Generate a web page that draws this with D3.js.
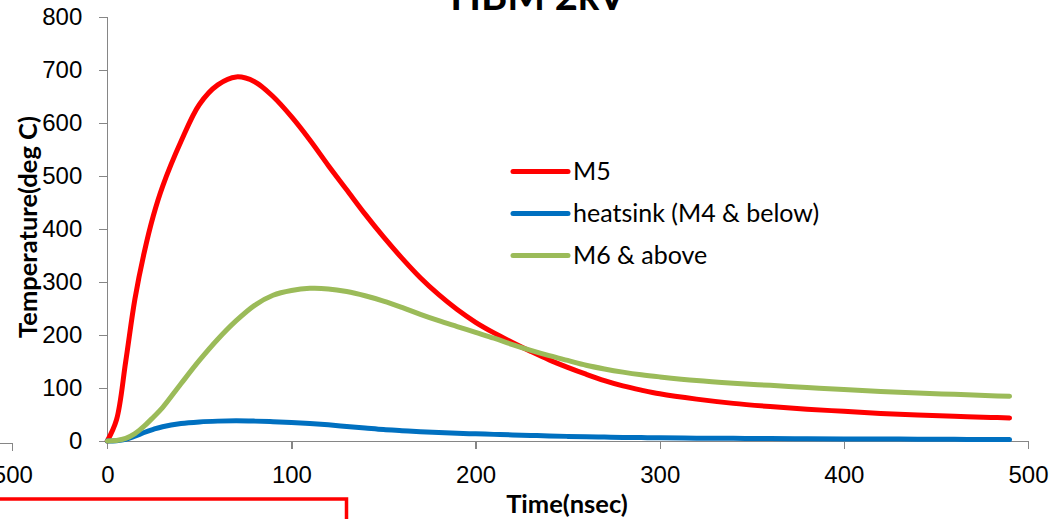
<!DOCTYPE html>
<html>
<head>
<meta charset="utf-8">
<script src="https://cdn.jsdelivr.net/npm/d3@7"></script>
<style>
  html, body { margin: 0; padding: 0; background: #fff; overflow: hidden; }
  svg { display: block; font-family: Lato, "Open Sans", sans-serif; }
  .axis path, .axis line { stroke: #868686; stroke-width: 1.3px; shape-rendering: crispEdges; }
  .axis text { fill: #000; font-size: 24px; }
</style>
</head>
<body>
<svg id="chart" width="1053" height="519"></svg>
<script>
// Simulated temperature transients, HBM 2kV pulse
const timeNs = [0, 5, 10, 15, 20, 25, 30, 40, 50, 60, 70, 80, 90, 100, 110, 120, 130, 140, 150,
  160, 170, 180, 190, 200, 210, 220, 230, 240, 250, 260, 270, 280, 290, 300, 320, 340, 360,
  380, 400, 420, 440, 460, 480, 490];

const tempM5 = [0, 40, 150, 268, 355, 425, 480, 565, 635, 672, 687, 678, 650, 612, 568, 520, 474,
  428, 385, 345, 308, 276, 248, 224, 204, 186, 169, 153, 139, 126, 114, 104, 96, 89, 79, 71, 65,
  60, 56, 52, 49, 46.5, 44.5, 43.5];

const tempHeatsink = [0, 0.5, 3, 9, 16, 22, 27, 33, 36, 37.5, 38, 37.5, 36.5, 35, 33, 30.5, 27.5,
  24.5, 21.5, 19.5, 17.5, 16, 14.5, 13.5, 12.5, 11.5, 10.5, 9.5, 8.7, 8, 7.4, 6.8, 6.4, 6, 5.4,
  5, 4.6, 4.3, 4, 3.7, 3.4, 3.1, 2.8, 2.6];

const tempM6 = [0, 1, 5, 14, 28, 45, 63, 108, 152, 192, 227, 256, 275, 284, 288, 287, 282, 274,
  264, 252, 239, 227, 216, 205, 194, 182, 171, 161, 152, 143, 136, 130, 125, 121, 114, 109, 105,
  101, 97, 93.5, 90.5, 88, 85.5, 84.5];

const seriesNames = ["M5", "heatsink (M4 & below)", "M6 & above"];
const seriesColors = ["#FF0000", "#0070C0", "#9BBB59"];
const xTicks = [0, 100, 200, 300, 400, 500];
const yTicks = [0, 100, 200, 300, 400, 500, 600, 700, 800];
const chartTitle = "HBM 2kV";
const xTitle = "Time(nsec)";
const yTitle = "Temperature(deg C)";

const svg = d3.select("#chart");

const x = d3.scaleLinear().domain([0, 500]).range([107.3, 1028]);
const y = d3.scaleLinear().domain([0, 800]).range([441, 17]);

// Edge of the neighbouring panel on the left
const xPrev = d3.scaleLinear().domain([0, 500]).range([12.3 - 920.7, 12.3]);
const prevAxis = svg.append("g").attr("class", "axis")
  .attr("transform", "translate(0,442.7)")
  .call(d3.axisBottom(xPrev).tickValues([500]).tickSizeOuter(0).tickSizeInner(8));
prevAxis.selectAll("text").attr("y", 40.5).attr("dy", null);

// Frame beneath the chart
svg.append("rect")
  .attr("x", -10).attr("y", 499)
  .attr("width", 356.5).attr("height", 60)
  .attr("fill", "none").attr("stroke", "#FF0000").attr("stroke-width", 3.5);

// Axes
svg.append("g").attr("class", "axis")
  .attr("transform", `translate(0,${y(0)})`)
  .call(d3.axisBottom(x).tickValues(xTicks).tickSizeInner(8).tickSizeOuter(8))
  .selectAll("text").attr("y", 42).attr("dy", null);

svg.append("g").attr("class", "axis")
  .attr("transform", `translate(${x(0)},0)`)
  .call(d3.axisLeft(y).tickValues(yTicks).tickSizeInner(8).tickSizeOuter(8).tickPadding(17));

// Series lines
const line = d3.line()
  .x(d => x(d[0]))
  .y(d => y(d[1]))
  .curve(d3.curveCatmullRom.alpha(0.5));

const series = [tempM5, tempHeatsink, tempM6];
series.forEach((vals, i) => {
  svg.append("path")
    .datum(timeNs.map((t, k) => [t, vals[k]]))
    .attr("fill", "none")
    .attr("stroke", seriesColors[i])
    .attr("stroke-width", 5)
    .attr("stroke-linecap", "round")
    .attr("stroke-linejoin", "round")
    .attr("d", line);
});

// Legend
const legend = svg.append("g").attr("transform", "translate(513,171.5)");
seriesNames.forEach((name, i) => {
  const g = legend.append("g").attr("transform", `translate(0,${i * 42})`);
  g.append("line")
    .attr("x1", 0).attr("x2", 55)
    .attr("stroke", seriesColors[i]).attr("stroke-width", 5)
    .attr("stroke-linecap", "round");
  g.append("text")
    .attr("x", 60).attr("dy", "0.35em")
    .attr("font-size", 25)
    .text(name);
});

// Titles
svg.append("text")
  .attr("x", 538).attr("y", 10)
  .attr("text-anchor", "middle")
  .attr("font-size", 40).attr("font-weight", "bold")
  .text(chartTitle);

svg.append("text")
  .attr("x", 567).attr("y", 513)
  .attr("text-anchor", "middle")
  .attr("font-size", 25.5).attr("font-weight", "bold")
  .text(xTitle);

svg.append("text")
  .attr("transform", "translate(37,227) rotate(-90)")
  .attr("text-anchor", "middle")
  .attr("font-size", 25.5).attr("font-weight", "bold")
  .text(yTitle);
</script>
</body>
</html>
